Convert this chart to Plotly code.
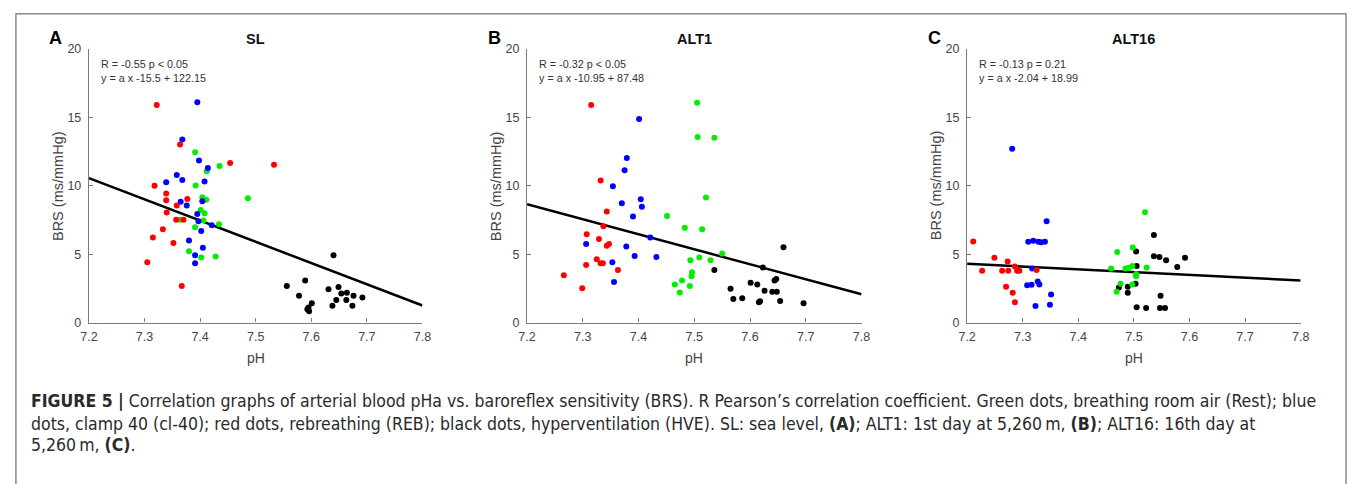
import plotly.graph_objects as go

# ---------------- data (pH vs BRS) ----------------
X_TICKS = [7.2, 7.3, 7.4, 7.5, 7.6, 7.7, 7.8]
Y_TICKS = [0, 5, 10, 15, 20]

PANELS = ["SL", "ALT1", "ALT16"]
PANEL_LETTERS = ["A", "B", "C"]
R_TEXT = ["R = -0.55 p < 0.05", "R = -0.32 p < 0.05", "R = -0.13 p = 0.21"]
SLOPES = [-15.5, -10.95, -2.04]
INTERCEPTS = [122.15, 87.48, 18.99]

# SL
SL_REB_PH = [7.322, 7.364, 7.454, 7.533, 7.318, 7.339, 7.339, 7.377, 7.358, 7.340, 7.357, 7.370, 7.333, 7.315, 7.352, 7.305, 7.367]
SL_REB_BRS = [15.9, 13.0, 11.65, 11.52, 10.0, 9.42, 8.94, 9.02, 8.55, 8.04, 7.52, 7.52, 6.81, 6.22, 5.82, 4.40, 2.67]
SL_CL40_PH = [7.395, 7.368, 7.398, 7.414, 7.358, 7.368, 7.339, 7.408, 7.404, 7.365, 7.376, 7.395, 7.397, 7.421, 7.402, 7.380, 7.405, 7.391, 7.391]
SL_CL40_BRS = [16.1, 13.37, 11.83, 11.3, 10.78, 10.42, 10.25, 10.31, 8.87, 8.82, 8.55, 7.94, 7.40, 7.11, 6.69, 6.0, 5.46, 4.92, 4.33]
SL_REST_PH = [7.391, 7.435, 7.412, 7.392, 7.404, 7.411, 7.401, 7.408, 7.364, 7.406, 7.434, 7.391, 7.380, 7.402, 7.428, 7.486]
SL_REST_BRS = [12.45, 11.43, 11.06, 10.02, 9.15, 8.98, 8.23, 7.99, 7.52, 7.45, 7.19, 6.97, 5.22, 4.75, 4.82, 9.08]
SL_HVE_PH = [7.640, 7.556, 7.589, 7.578, 7.631, 7.649, 7.654, 7.664, 7.676, 7.692, 7.645, 7.663, 7.638, 7.674, 7.601, 7.595, 7.593, 7.596]
SL_HVE_BRS = [4.92, 2.67, 3.07, 1.96, 2.43, 2.60, 2.13, 2.18, 1.96, 1.84, 1.65, 1.65, 1.23, 1.23, 1.42, 1.11, 0.97, 0.83]

# ALT1
ALT1_REB_PH = [7.315, 7.332, 7.343, 7.337, 7.307, 7.329, 7.343, 7.347, 7.325, 7.332, 7.336, 7.306, 7.363, 7.266, 7.299]
ALT1_REB_BRS = [15.89, 10.38, 8.11, 7.04, 6.45, 6.1, 5.62, 5.74, 4.63, 4.33, 4.33, 4.21, 3.85, 3.45, 2.51]
ALT1_CL40_PH = [7.401, 7.379, 7.375, 7.354, 7.404, 7.406, 7.370, 7.390, 7.421, 7.306, 7.378, 7.393, 7.432, 7.353, 7.356]
ALT1_CL40_BRS = [14.87, 12.03, 11.13, 9.95, 9.0, 8.46, 8.72, 7.75, 6.22, 5.74, 5.55, 4.87, 4.80, 4.40, 2.96]
ALT1_REST_PH = [7.505, 7.506, 7.536, 7.521, 7.451, 7.483, 7.514, 7.550, 7.493, 7.509, 7.529, 7.496, 7.495, 7.478, 7.465, 7.492, 7.474]
ALT1_REST_BRS = [16.05, 13.55, 13.5, 9.13, 7.78, 6.93, 6.81, 5.04, 4.56, 4.75, 4.56, 3.67, 3.38, 3.07, 2.79, 2.67, 2.20]
ALT1_HVE_PH = [7.536, 7.660, 7.623, 7.565, 7.601, 7.613, 7.626, 7.644, 7.647, 7.640, 7.648, 7.570, 7.586, 7.616, 7.618, 7.654, 7.696]
ALT1_HVE_BRS = [3.85, 5.51, 4.02, 2.48, 2.91, 2.79, 2.32, 3.07, 3.19, 2.25, 2.25, 1.72, 1.77, 1.49, 1.56, 1.58, 1.42]

# ALT16
ALT16_REB_PH = [7.211, 7.249, 7.273, 7.227, 7.263, 7.274, 7.286, 7.290, 7.294, 7.325, 7.270, 7.282, 7.286]
ALT16_REB_BRS = [5.93, 4.73, 4.47, 3.78, 3.78, 3.78, 4.09, 3.78, 3.78, 3.85, 2.62, 2.18, 1.49]
ALT16_CL40_PH = [7.281, 7.343, 7.310, 7.319, 7.328, 7.333, 7.340, 7.317, 7.308, 7.316, 7.327, 7.330, 7.351, 7.349, 7.323]
ALT16_CL40_BRS = [12.70, 7.40, 5.91, 5.98, 5.91, 5.86, 5.91, 3.95, 2.72, 2.76, 3.0, 2.79, 2.06, 1.30, 1.21]
ALT16_REST_PH = [7.520, 7.470, 7.498, 7.459, 7.485, 7.491, 7.497, 7.523, 7.504, 7.504, 7.476, 7.497, 7.469]
ALT16_REST_BRS = [8.06, 5.16, 5.48, 3.95, 3.95, 4.0, 4.13, 4.02, 3.38, 3.55, 2.84, 2.79, 2.25]
ALT16_HVE_PH = [7.536, 7.504, 7.536, 7.546, 7.558, 7.592, 7.578, 7.505, 7.503, 7.473, 7.489, 7.489, 7.548, 7.505, 7.522, 7.547, 7.556]
ALT16_HVE_BRS = [6.40, 5.20, 4.85, 4.80, 4.56, 4.73, 4.07, 4.14, 2.84, 2.57, 2.62, 2.18, 1.96, 1.13, 1.06, 1.06, 1.06]

GROUPS = ["Rest", "cl-40", "REB", "HVE"]
GROUP_COLORS = {"Rest": "#00ee00", "cl-40": "#0000ff", "REB": "#ff0000", "HVE": "#000000"}

panel_data = [
    {"REB": (SL_REB_PH, SL_REB_BRS), "cl-40": (SL_CL40_PH, SL_CL40_BRS),
     "Rest": (SL_REST_PH, SL_REST_BRS), "HVE": (SL_HVE_PH, SL_HVE_BRS)},
    {"REB": (ALT1_REB_PH, ALT1_REB_BRS), "cl-40": (ALT1_CL40_PH, ALT1_CL40_BRS),
     "Rest": (ALT1_REST_PH, ALT1_REST_BRS), "HVE": (ALT1_HVE_PH, ALT1_HVE_BRS)},
    {"REB": (ALT16_REB_PH, ALT16_REB_BRS), "cl-40": (ALT16_CL40_PH, ALT16_CL40_BRS),
     "Rest": (ALT16_REST_PH, ALT16_REST_BRS), "HVE": (ALT16_HVE_PH, ALT16_HVE_BRS)},
]

# ---------------- layout geometry (pixels) ----------------
W, H = 1358, 484
X_LEFT = [81, 525, 971]
X_RIGHT = [419, 864, 1309]
Y_TOP, Y_BOT = 43, 325

def px(x):
    return x / W

def py(y):
    return 1 - y / H

FONT = "Liberation Sans, Arial, sans-serif"
AX_COLOR = "#7a7a7a"
TXT_COLOR = "#444444"

fig = go.Figure()
layout_axes = {}
annotations = []

for i in range(3):
    xa = "x" if i == 0 else f"x{i+1}"
    ya = "y" if i == 0 else f"y{i+1}"
    xkey = "xaxis" if i == 0 else f"xaxis{i+1}"
    ykey = "yaxis" if i == 0 else f"yaxis{i+1}"

    # regression line
    fig.add_trace(go.Scatter(
        x=[X_TICKS[0], X_TICKS[-1]],
        y=[SLOPES[i] * X_TICKS[0] + INTERCEPTS[i], SLOPES[i] * X_TICKS[-1] + INTERCEPTS[i]],
        mode="lines", line=dict(color="black", width=2.5),
        xaxis=xa, yaxis=ya, showlegend=False, hoverinfo="skip"))

    for g in ["HVE", "Rest", "cl-40", "REB"]:
        xs, ys = panel_data[i][g]
        fig.add_trace(go.Scatter(
            x=xs, y=ys, mode="markers", name=g,
            marker=dict(color=GROUP_COLORS[g], size=6, line=dict(width=0)),
            xaxis=xa, yaxis=ya, showlegend=False))

    layout_axes[xkey] = dict(
        domain=[px(X_LEFT[i]), px(X_RIGHT[i])], range=[7.2, 7.8],
        tickvals=X_TICKS, ticktext=[f"{v:.1f}" for v in X_TICKS],
        showline=True, linecolor=AX_COLOR, linewidth=1.2,
        ticks="inside", ticklen=4, tickcolor=AX_COLOR, tickwidth=1,
        showgrid=False, zeroline=False, anchor=ya,
        tickfont=dict(family=FONT, size=12.5, color=TXT_COLOR),
        ticklabelstandoff=2)
    layout_axes[ykey] = dict(
        domain=[py(Y_BOT), py(Y_TOP)], range=[0, 20],
        tickvals=Y_TICKS,
        showline=True, linecolor=AX_COLOR, linewidth=1.2,
        ticks="inside", ticklen=4, tickcolor=AX_COLOR, tickwidth=1,
        showgrid=False, zeroline=False, anchor=xa,
        tickfont=dict(family=FONT, size=12.5, color=TXT_COLOR),
        ticklabelstandoff=4)

    cx = (X_LEFT[i] + X_RIGHT[i]) / 2
    # panel title
    annotations.append(dict(text=f"<b>{PANELS[i]}</b>", x=px(cx), y=py(33),
                            xref="paper", yref="paper", showarrow=False,
                            xanchor="center", yanchor="middle",
                            font=dict(family=FONT, size=14.5, color="#111111")))
    # panel letter
    annotations.append(dict(text=f"<b>{PANEL_LETTERS[i]}</b>", x=px(X_LEFT[i] - 42), y=py(32),
                            xref="paper", yref="paper", showarrow=False,
                            xanchor="left", yanchor="middle",
                            font=dict(family=FONT, size=18, color="#000000")))
    # stats text
    eq = f"y = a x {SLOPES[i]:g} + {INTERCEPTS[i]:g}"
    annotations.append(dict(text=R_TEXT[i], x=px(X_LEFT[i] + 10), y=py(59),
                            xref="paper", yref="paper", showarrow=False,
                            xanchor="left", yanchor="middle",
                            font=dict(family=FONT, size=10.8, color="#333333")))
    annotations.append(dict(text=eq, x=px(X_LEFT[i] + 10), y=py(73),
                            xref="paper", yref="paper", showarrow=False,
                            xanchor="left", yanchor="middle",
                            font=dict(family=FONT, size=10.8, color="#333333")))
    # axis labels
    annotations.append(dict(text="pH", x=px(cx), y=py(361),
                            xref="paper", yref="paper", showarrow=False,
                            xanchor="center", yanchor="middle",
                            font=dict(family=FONT, size=14, color=TXT_COLOR)))
    annotations.append(dict(text="BRS (ms/mmHg)", x=px(X_LEFT[i] - 32), y=py((Y_TOP + Y_BOT) / 2),
                            xref="paper", yref="paper", showarrow=False, textangle=-90,
                            xanchor="center", yanchor="middle",
                            font=dict(family=FONT, size=14.5, color=TXT_COLOR)))

CAPTION_LINES = [
    "<b>FIGURE 5 |</b> Correlation graphs of arterial blood pHa vs. baroreflex sensitivity (BRS). R Pearson’s correlation coefficient. Green dots, breathing room air (Rest); blue",
    "dots, clamp 40 (cl-40); red dots, rebreathing (REB); black dots, hyperventilation (HVE). SL: sea level, <b>(A)</b>; ALT1: 1st day at 5,260\u2009m, <b>(B)</b>; ALT16: 16th day at",
    "5,260\u2009m, <b>(C)</b>.",
]
CAPTION_Y = [406, 429, 451]
CAP_FONT = "Liberation Sans Narrow, DejaVu Sans Condensed, Roboto Condensed, Liberation Sans, sans-serif"
for line, yy in zip(CAPTION_LINES, CAPTION_Y):
    annotations.append(dict(text=line, x=px(20), y=py(yy), xref="paper", yref="paper",
                            showarrow=False, xanchor="left", yanchor="middle",
                            font=dict(family=CAP_FONT, size=17.5, color="#2a2a2a")))

fig.update_layout(
    width=W, height=H,
    margin=dict(l=0, r=0, t=0, b=0),
    paper_bgcolor="white", plot_bgcolor="white",
    showlegend=False,
    annotations=annotations,
    shapes=[dict(type="rect", xref="paper", yref="paper",
                 x0=px(7), x1=px(1355), y0=py(500), y1=py(7),
                 line=dict(color="#8a8a8a", width=1.5))],
    **layout_axes,
)

fig.write_html(
    "out.html",
    config={"displayModeBar": False},
    post_script="document.body.style.margin='0';document.body.style.overflow='hidden';",
)
